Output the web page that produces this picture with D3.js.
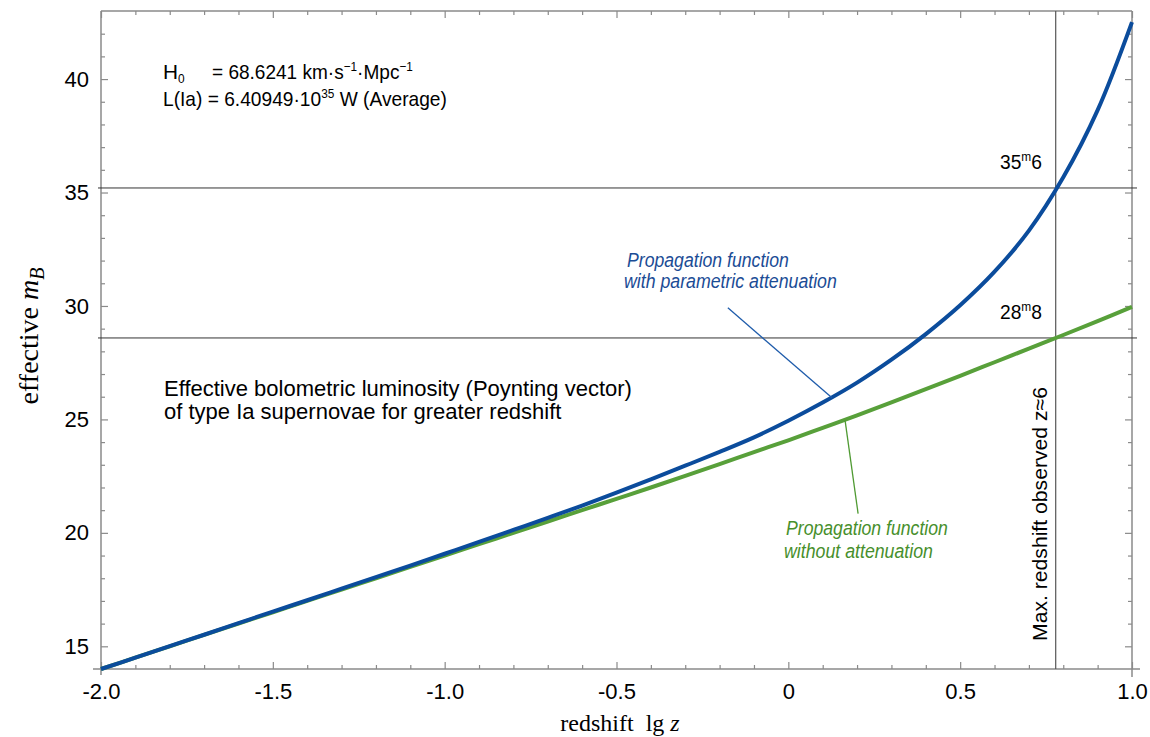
<!DOCTYPE html>
<html><head><meta charset="utf-8">
<script src="https://cdn.jsdelivr.net/npm/d3@7"></script>
<style>body{margin:0;background:#fff}svg{display:block}</style>
</head><body>
<svg id="c" width="1150" height="737"></svg>
<script>
// ---- data ----
const lgz = [-2.0,-1.9,-1.8,-1.7,-1.6,-1.5,-1.4,-1.3,-1.2,-1.1,-1.0,-0.9,-0.8,-0.7,-0.6,-0.5,-0.4,-0.3,-0.2,-0.1,0.0,0.1,0.2,0.3,0.4,0.5,0.6,0.7,0.8,0.9,1.0];
const withoutAttenuation = [14.00,14.50,15.00,15.50,16.00,16.50,17.00,17.50,18.00,18.50,19.00,19.50,20.00,20.50,21.00,21.50,22.00,22.51,23.03,23.56,24.08,24.63,25.18,25.75,26.33,26.92,27.52,28.12,28.72,29.33,29.96];
const withAttenuation   = [14.00,14.50,15.01,15.51,16.02,16.53,17.03,17.54,18.05,18.56,19.08,19.60,20.13,20.66,21.20,21.77,22.36,22.96,23.57,24.21,24.94,25.74,26.62,27.63,28.76,30.03,31.51,33.32,35.67,38.63,42.51];
const xMajorTicks = [-2,-1.5,-1,-0.5,0,0.5,1];
const xTickLabels = ["-2.0","-1.5","-1.0","-0.5","0","0.5","1.0"];
const yMajorTicks = [15,20,25,30,35,40];
const yTickLabels = ["15","20","25","30","35","40"];
const maxObservedLgZ = 0.778;            // lg 6
const levelValues = [35.2, 28.59];
const levelLabels = [["35","m","6"],["28","m","8"]];
const blueLeader = [[-0.176,29.92],[0.127,25.95]];
const greenLeader = [[0.165,24.97],[0.203,20.85]];

// ---- setup ----
const svg = d3.select("#c");
const x = d3.scaleLinear([-2,1],[101,1132]);
const y = d3.scaleLinear([14,43],[669,11]);
const axisCol = "#8a8a8a";
const sans = "'Liberation Sans', Arial, sans-serif";
const serif = "'Liberation Serif', 'Times New Roman', serif";
const blue = "#0b4c9c", green = "#58a03a";

const xMinor = x.ticks(30).filter(v => !xMajorTicks.some(m => Math.abs(m - v) < 1e-6));
const yMinor = y.ticks(29).filter(v => !yMajorTicks.includes(v) && v > 14 && v < 43);

function styleAxis(g){
  g.select(".domain").remove();
  g.selectAll(".tick line").attr("stroke", axisCol).attr("stroke-width", 1.2);
  g.selectAll("text").attr("fill","#000").attr("font-family", sans).attr("font-size", 22);
}
// bottom
svg.append("g").attr("transform",`translate(0,${y(14)})`)
  .call(d3.axisBottom(x).tickValues(xMinor).tickSize(-4).tickFormat("")).call(styleAxis);
svg.append("g").attr("transform",`translate(0,${y(14)})`)
  .call(d3.axisBottom(x).tickValues(xMajorTicks).tickSizeInner(-7).tickSizeOuter(0).tickPadding(14)
    .tickFormat((d,i)=>xTickLabels[i])).call(styleAxis);
// top
svg.append("g").attr("transform",`translate(0,${y(43)})`)
  .call(d3.axisTop(x).tickValues(xMinor).tickSize(-4).tickFormat("")).call(styleAxis);
svg.append("g").attr("transform",`translate(0,${y(43)})`)
  .call(d3.axisTop(x).tickValues(xMajorTicks).tickSize(-7).tickFormat("")).call(styleAxis);
// left
svg.append("g").attr("transform",`translate(${x(-2)},0)`)
  .call(d3.axisLeft(y).tickValues(yMinor).tickSize(-4).tickFormat("")).call(styleAxis);
svg.append("g").attr("transform",`translate(${x(-2)},0)`)
  .call(d3.axisLeft(y).tickValues(yMajorTicks).tickSizeInner(-7).tickSizeOuter(0).tickPadding(12)
    .tickFormat((d,i)=>yTickLabels[i])).call(styleAxis);
// right
svg.append("g").attr("transform",`translate(${x(1)},0)`)
  .call(d3.axisRight(y).tickValues(yMinor).tickSize(-4).tickFormat("")).call(styleAxis);
svg.append("g").attr("transform",`translate(${x(1)},0)`)
  .call(d3.axisRight(y).tickValues(yMajorTicks).tickSize(-7).tickFormat("")).call(styleAxis);

// frame lines
const frame = svg.append("g").attr("stroke", axisCol).attr("stroke-width", 1.5);
frame.append("line").attr("x1", x(-2)-8).attr("x2", x(1)+8).attr("y1", y(14)).attr("y2", y(14));
frame.append("line").attr("x1", x(-2)).attr("x2", x(1)).attr("y1", y(43)).attr("y2", y(43));
frame.append("line").attr("x1", x(-2)).attr("x2", x(-2)).attr("y1", y(43)).attr("y2", y(14)+6);
frame.append("line").attr("x1", x(1)).attr("x2", x(1)).attr("y1", y(43)).attr("y2", y(14)+8);

// reference lines
svg.append("g").selectAll("line").data(levelValues).join("line")
  .attr("x1", x(-2)-3).attr("x2", x(1)+5).attr("y1", d=>y(d)).attr("y2", d=>y(d))
  .attr("stroke","#333").attr("stroke-width",1);
svg.append("line").attr("x1", x(maxObservedLgZ)).attr("x2", x(maxObservedLgZ))
  .attr("y1", y(43)).attr("y2", y(14)).attr("stroke","#555").attr("stroke-width",1.2);

// curves
const line = d3.line().x((d,i)=>x(lgz[i])).y(d=>y(d)).curve(d3.curveCatmullRom);
svg.append("path").attr("d", line(withoutAttenuation)).attr("fill","none")
  .attr("stroke", green).attr("stroke-width", 4);
svg.append("path").attr("d", line(withAttenuation)).attr("fill","none")
  .attr("stroke", blue).attr("stroke-width", 4);

// leaders
const leader = d3.line().x(d=>x(d[0])).y(d=>y(d[1]));
svg.append("path").attr("d", leader(blueLeader)).attr("stroke","#1f5cab").attr("stroke-width",1.3).attr("fill","none");
svg.append("path").attr("d", leader(greenLeader)).attr("stroke","#4f9a32").attr("stroke-width",1.3).attr("fill","none");

// helper: fit text width by horizontal scale
function fitText(g, tx, ty, target, rot){
  const w = g.node().getBBox().width;
  const s = target / w;
  g.attr("transform", `translate(${tx},${ty})` + (rot ? ` rotate(${rot})` : "") + ` scale(${s},1)`);
}

// top-left annotation
{
  const gH = svg.append("g").attr("font-family", sans).attr("font-size", 21).attr("fill","#000");
  const h = gH.append("text");
  h.append("tspan").text("H");
  h.append("tspan").attr("dy",4).attr("font-size",12).text("0");
  fitText(gH, 163, 79, 22);

  const g1 = svg.append("g").attr("font-family", sans).attr("font-size", 21).attr("fill","#000");
  const t1 = g1.append("text");
  t1.append("tspan").text("= 68.6241 km·s");
  t1.append("tspan").attr("dy",-8).attr("font-size",13).text("−1");
  t1.append("tspan").attr("dy",8).text("·Mpc");
  t1.append("tspan").attr("dy",-8).attr("font-size",13).text("−1");
  fitText(g1, 212, 79, 201);

  const g2 = svg.append("g").attr("font-family", sans).attr("font-size", 21).attr("fill","#000");
  const t2 = g2.append("text");
  t2.append("tspan").text("L(Ia) = 6.40949·10");
  t2.append("tspan").attr("dy",-8).attr("font-size",13).text("35");
  t2.append("tspan").attr("dy",8).text(" W (Average)");
  fitText(g2, 163, 106, 284);
}

// description
const desc = svg.append("g").attr("font-family", sans).attr("font-size", 22).attr("fill","#000");
desc.append("text").attr("x",164).attr("y",396).text("Effective bolometric luminosity (Poynting vector)");
desc.append("text").attr("x",164).attr("y",419).text("of type Ia supernovae for greater redshift");

// curve labels
function curveLabel(text, col, tx, ty, target){
  const g = svg.append("g").attr("font-family", sans).attr("font-size", 21)
    .attr("font-style","italic").attr("fill", col);
  g.append("text").text(text);
  fitText(g, tx, ty, target);
}
curveLabel("Propagation function", "#1b4c95", 627, 266.5, 162);
curveLabel("with parametric attenuation", "#1b4c95", 624, 288, 213);
curveLabel("Propagation function", "#478f2c", 786, 535, 162);
curveLabel("without attenuation", "#478f2c", 784, 557.5, 149);

// level labels
levelValues.forEach((v,i)=>{
  const g = svg.append("g").attr("font-family", sans).attr("font-size", 21).attr("fill","#000");
  const t = g.append("text");
  t.append("tspan").text(levelLabels[i][0]);
  t.append("tspan").attr("dy",-8).attr("font-size",13).text(levelLabels[i][1]);
  t.append("tspan").attr("dy",8).text(levelLabels[i][2]);
  fitText(g, 1042 - 42, y(v) - 18.5, 42);
});

// rotated label along the max-redshift line
{
  const g = svg.append("g").attr("font-family", sans).attr("font-size", 21).attr("fill","#000");
  g.append("text").text("Max. redshift observed z≈6");
  fitText(g, x(maxObservedLgZ) - 9, 641, 254, -90);
}

// axis titles
const xt = svg.append("text").attr("x", 620).attr("y", 731).attr("text-anchor","middle")
  .attr("font-family", serif).attr("font-size", 24).attr("fill","#000");
xt.append("tspan").text("redshift\u00A0\u00A0lg\u00A0");
xt.append("tspan").attr("font-style","italic").text("z");

const yt = svg.append("text").attr("transform","translate(38,336) rotate(-90)").attr("text-anchor","middle")
  .attr("font-family", serif).attr("font-size", 28).attr("fill","#000");
yt.append("tspan").text("effective ");
yt.append("tspan").attr("font-style","italic").text("m");
yt.append("tspan").attr("font-style","italic").attr("dy",6).attr("font-size",20).text("B");
</script>
</body></html>
